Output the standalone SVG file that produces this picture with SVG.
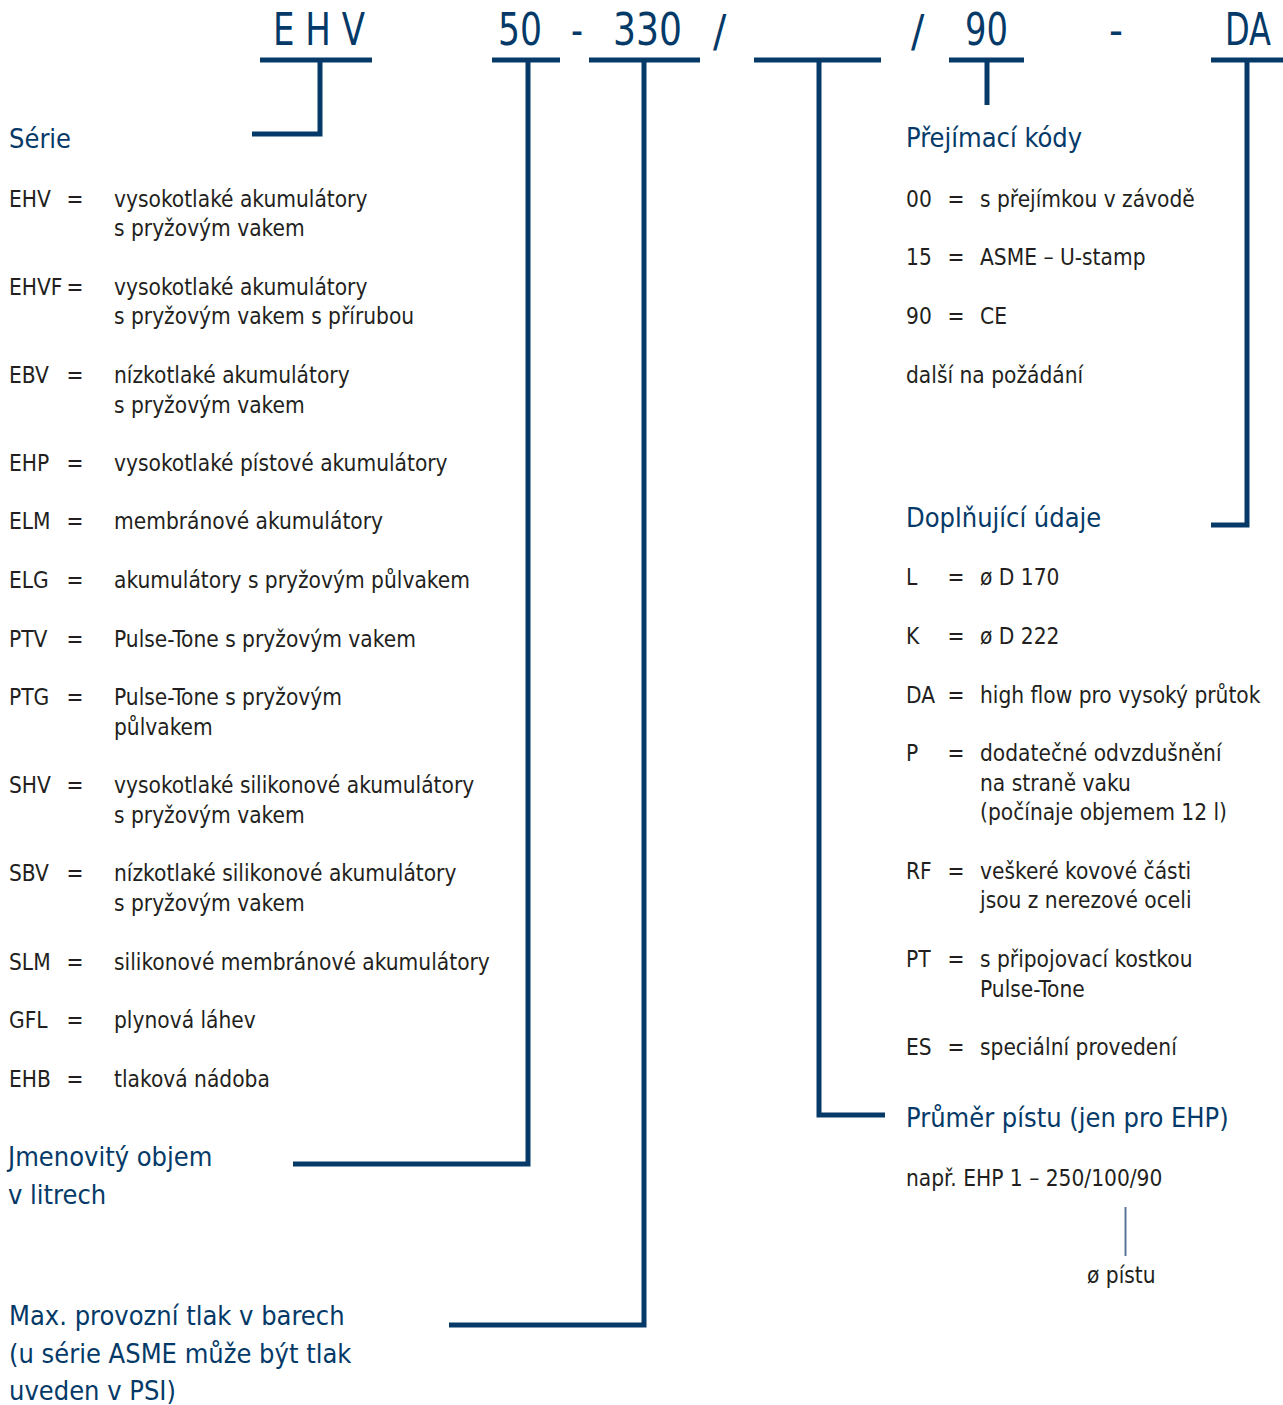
<svg xmlns="http://www.w3.org/2000/svg" width="1283" height="1405" viewBox="0 0 1283 1405">
<style>
text{font-family:"DejaVu Sans Condensed","DejaVu Sans","Liberation Sans",sans-serif;font-stretch:condensed}
.hd{font-size:44px;fill:#053a68}
.h{font-size:27px;fill:#053a68}
.t{font-size:22.5px;fill:#231f20}
.eq{text-anchor:middle}
.c{fill:none;stroke:#053a68;stroke-width:5;stroke-linejoin:miter;stroke-linecap:butt}
.thin{fill:none;stroke:#5a7698;stroke-width:2}
</style>
<rect width="1283" height="1405" fill="#ffffff"/>

<g id="header">
<text class="hd" x="273" y="45" textLength="92" lengthAdjust="spacingAndGlyphs">E H V</text>
<text class="hd" x="498" y="45" textLength="44" lengthAdjust="spacingAndGlyphs">50</text>
<text class="hd" x="571" y="45" textLength="12" lengthAdjust="spacingAndGlyphs">-</text>
<text class="hd" x="613" y="45" textLength="69" lengthAdjust="spacingAndGlyphs">330</text>
<text class="hd" x="713" y="47">/</text>
<text class="hd" x="911" y="47">/</text>
<text class="hd" x="965" y="45" textLength="43" lengthAdjust="spacingAndGlyphs">90</text>
<text class="hd" x="1109" y="45" textLength="14" lengthAdjust="spacingAndGlyphs">-</text>
<text class="hd" x="1225" y="45" textLength="46" lengthAdjust="spacingAndGlyphs">DA</text>
</g>

<g id="connectors">
<path class="c" d="M260,60 H372 M320,60 V134 H252"/>
<path class="c" d="M492,60 H560 M528,60 V1164 H293"/>
<path class="c" d="M589,60 H700 M644,60 V1325 H449"/>
<path class="c" d="M754,60 H881 M819,60 V1115 H885"/>
<path class="c" d="M949,60 H1024 M987,60 V105"/>
<path class="c" d="M1211,60 H1283 M1247,60 V525 H1211"/>
<path class="thin" d="M1125.5,1207 V1256"/>
</g>

<g id="serie">
<text class="h" x="9" y="148">Série</text>
<g id="s-ehv"><text class="t" x="9" y="207">EHV</text><text class="t eq" x="75" y="207">=</text><text class="t" x="114" y="207">vysokotlaké akumulátory</text><text class="t" x="114" y="236">s pryžovým vakem</text></g>
<g id="s-ehvf"><text class="t" x="9" y="295">EHVF</text><text class="t eq" x="75" y="295">=</text><text class="t" x="114" y="295">vysokotlaké akumulátory</text><text class="t" x="114" y="324">s pryžovým vakem s přírubou</text></g>
<g id="s-ebv"><text class="t" x="9" y="383">EBV</text><text class="t eq" x="75" y="383">=</text><text class="t" x="114" y="383">nízkotlaké akumulátory</text><text class="t" x="114" y="413">s pryžovým vakem</text></g>
<g id="s-ehp"><text class="t" x="9" y="471">EHP</text><text class="t eq" x="75" y="471">=</text><text class="t" x="114" y="471">vysokotlaké pístové akumulátory</text></g>
<g id="s-elm"><text class="t" x="9" y="529">ELM</text><text class="t eq" x="75" y="529">=</text><text class="t" x="114" y="529">membránové akumulátory</text></g>
<g id="s-elg"><text class="t" x="9" y="588">ELG</text><text class="t eq" x="75" y="588">=</text><text class="t" x="114" y="588">akumulátory s pryžovým půlvakem</text></g>
<g id="s-ptv"><text class="t" x="9" y="647">PTV</text><text class="t eq" x="75" y="647">=</text><text class="t" x="114" y="647">Pulse-Tone s pryžovým vakem</text></g>
<g id="s-ptg"><text class="t" x="9" y="705">PTG</text><text class="t eq" x="75" y="705">=</text><text class="t" x="114" y="705">Pulse-Tone s pryžovým</text><text class="t" x="114" y="735">půlvakem</text></g>
<g id="s-shv"><text class="t" x="9" y="793">SHV</text><text class="t eq" x="75" y="793">=</text><text class="t" x="114" y="793">vysokotlaké silikonové akumulátory</text><text class="t" x="114" y="823">s pryžovým vakem</text></g>
<g id="s-sbv"><text class="t" x="9" y="881">SBV</text><text class="t eq" x="75" y="881">=</text><text class="t" x="114" y="881">nízkotlaké silikonové akumulátory</text><text class="t" x="114" y="911">s pryžovým vakem</text></g>
<g id="s-slm"><text class="t" x="9" y="970">SLM</text><text class="t eq" x="75" y="970">=</text><text class="t" x="114" y="970">silikonové membránové akumulátory</text></g>
<g id="s-gfl"><text class="t" x="9" y="1028">GFL</text><text class="t eq" x="75" y="1028">=</text><text class="t" x="114" y="1028">plynová láhev</text></g>
<g id="s-ehb"><text class="t" x="9" y="1087">EHB</text><text class="t eq" x="75" y="1087">=</text><text class="t" x="114" y="1087">tlaková nádoba</text></g>
</g>

<g id="objem">
<text class="h" x="8" y="1166">Jmenovitý objem</text>
<text class="h" x="8" y="1204">v litrech</text>
</g>

<g id="tlak">
<text class="h" x="9" y="1325">Max. provozní tlak v barech</text>
<text class="h" x="9" y="1363">(u série ASME může být tlak</text>
<text class="h" x="9" y="1400">uveden v PSI)</text>
</g>

<g id="prejimaci">
<text class="h" x="906" y="147">Přejímací kódy</text>
<g id="p-00"><text class="t" x="906" y="207">00</text><text class="t eq" x="956" y="207">=</text><text class="t" x="980" y="207">s přejímkou v závodě</text></g>
<g id="p-15"><text class="t" x="906" y="265">15</text><text class="t eq" x="956" y="265">=</text><text class="t" x="980" y="265">ASME – U-stamp</text></g>
<g id="p-90"><text class="t" x="906" y="324">90</text><text class="t eq" x="956" y="324">=</text><text class="t" x="980" y="324">CE</text></g>
<g id="p-dalsi"><text class="t" x="906" y="383">další na požádání</text></g>
</g>

<g id="doplnujici">
<text class="h" x="906" y="527">Doplňující údaje</text>
<g id="d-l"><text class="t" x="906" y="585">L</text><text class="t eq" x="956" y="585">=</text><text class="t" x="980" y="585">ø D 170</text></g>
<g id="d-k"><text class="t" x="906" y="644">K</text><text class="t eq" x="956" y="644">=</text><text class="t" x="980" y="644">ø D 222</text></g>
<g id="d-da"><text class="t" x="906" y="703">DA</text><text class="t eq" x="956" y="703">=</text><text class="t" x="980" y="703">high flow pro vysoký průtok</text></g>
<g id="d-p"><text class="t" x="906" y="761">P</text><text class="t eq" x="956" y="761">=</text><text class="t" x="980" y="761">dodatečné odvzdušnění</text><text class="t" x="980" y="791">na straně vaku</text><text class="t" x="980" y="820">(počínaje objemem 12 l)</text></g>
<g id="d-rf"><text class="t" x="906" y="879">RF</text><text class="t eq" x="956" y="879">=</text><text class="t" x="980" y="879">veškeré kovové části</text><text class="t" x="980" y="908">jsou z nerezové oceli</text></g>
<g id="d-pt"><text class="t" x="906" y="967">PT</text><text class="t eq" x="956" y="967">=</text><text class="t" x="980" y="967">s připojovací kostkou</text><text class="t" x="980" y="997">Pulse-Tone</text></g>
<g id="d-es"><text class="t" x="906" y="1055">ES</text><text class="t eq" x="956" y="1055">=</text><text class="t" x="980" y="1055">speciální provedení</text></g>
</g>

<g id="prumer">
<text class="h" x="906" y="1127">Průměr pístu (jen pro EHP)</text>
<text class="t" x="906" y="1186">např. EHP 1 – 250/100/90</text>
<text class="t" x="1087" y="1283">ø pístu</text>
</g>
</svg>
